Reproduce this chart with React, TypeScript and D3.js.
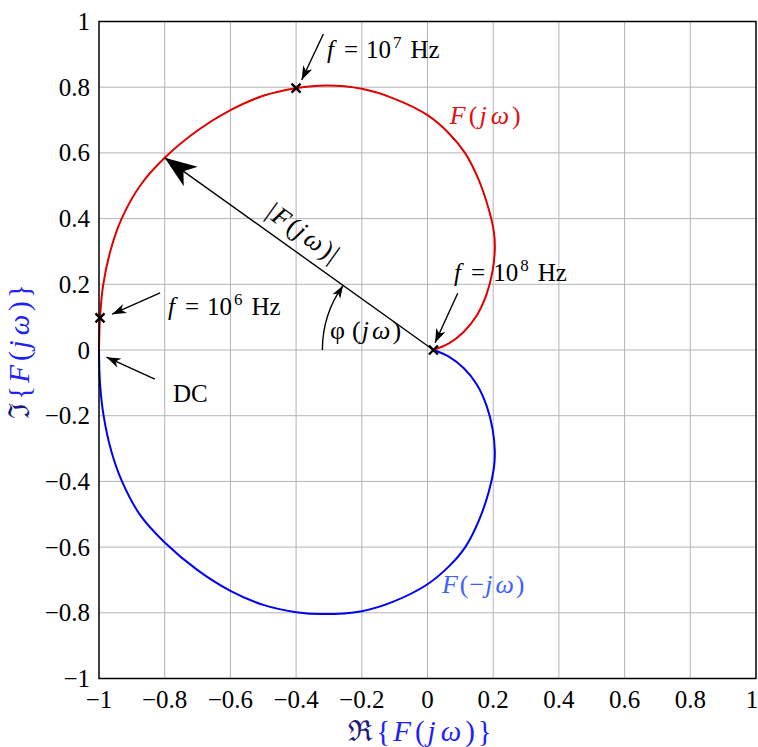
import React from 'react';
import * as d3 from 'd3';

const W = 758;
const H = 747;

// F(jω) branch (red)
const posRe = [-1, -0.997, -0.987, -0.963, -0.931, -0.875, -0.8, -0.7, -0.6, -0.5, -0.4, -0.307, -0.2, -0.104, 0, 0.065, 0.114, 0.155, 0.186, 0.202, 0.205, 0.198, 0.18, 0.15, 0.11, 0.065, 0.018];
const posIm = [0, 0.098, 0.2, 0.31, 0.4, 0.5, 0.585, 0.668, 0.73, 0.774, 0.797, 0.805, 0.795, 0.766, 0.715, 0.66, 0.6, 0.52, 0.43, 0.36, 0.31, 0.24, 0.17, 0.105, 0.055, 0.02, 0];

// F(-jω) branch (blue)
const negRe = [-1, -0.997, -0.986, -0.962, -0.93, -0.875, -0.8, -0.7, -0.6, -0.5, -0.4, -0.318, -0.2, -0.104, 0, 0.066, 0.115, 0.156, 0.187, 0.202, 0.205, 0.198, 0.18, 0.15, 0.11, 0.065, 0.018];
const negIm = [0, -0.1, -0.2, -0.31, -0.4, -0.502, -0.586, -0.67, -0.733, -0.776, -0.798, -0.804, -0.795, -0.766, -0.713, -0.658, -0.6, -0.52, -0.43, -0.36, -0.31, -0.24, -0.17, -0.105, -0.055, -0.02, 0];

const ticks = [-1, -0.8, -0.6, -0.4, -0.2, 0, 0.2, 0.4, 0.6, 0.8, 1];

// frequency markers
const markRe = [-0.997, -0.4, 0.018];
const markIm = [0.098, 0.797, 0];
const markExp = ['6', '7', '8'];

// annotation arrows: [fromRe, fromIm, toRe, toIm]
const noteArrows = [
  [-0.814, 0.174, -0.96, 0.109],
  [-0.317, 0.962, -0.383, 0.822],
  [0.092, 0.173, 0.023, 0.022],
  [-0.83, -0.089, -0.977, -0.022],
];
// where the "f = 10^n Hz" texts start
const noteText = [
  [-0.79, 0.108],
  [-0.306, 0.89],
  [0.081, 0.21],
];

// the |F(jω)| vector ends on the curve here
const vecTip = [-0.8, 0.585];
const phiRadius = 0.338;

const fmt = (v: number) => (v === 0 ? '0' : String(v).replace('-', '\u2212'));

const font = "'Liberation Serif', 'Times New Roman', serif";
const fs = 25;

// stealth-like arrow head, tip at (tx,ty), pointing away from (fx,fy)
function head(fx: number, fy: number, tx: number, ty: number, len: number, hw: number) {
  const a = Math.atan2(ty - fy, tx - fx);
  const ux = Math.cos(a), uy = Math.sin(a);
  const px = -uy, py = ux;
  const bx = tx - ux * len, by = ty - uy * len;
  const nx = tx - ux * len * 0.72, ny = ty - uy * len * 0.72;
  return `M${tx},${ty}L${bx + px * hw},${by + py * hw}L${nx},${ny}L${bx - px * hw},${by - py * hw}Z`;
}

const FJw = ({ neg = false }: { neg?: boolean }) => (
  <>
    <tspan fontStyle="italic">F</tspan>
    <tspan dx={1}>(</tspan>
    {neg ? <tspan>−</tspan> : null}
    <tspan fontStyle="italic">j</tspan>
    <tspan fontStyle="italic" dx={2}>ω</tspan>
    <tspan dx={1}>)</tspan>
  </>
);

export default function App() {
  const x = d3.scaleLinear().domain([-1, 1]).range([99, 756]);
  const y = d3.scaleLinear().domain([-1, 1]).range([678.5, 21.5]);

  const line = d3
    .line<number>()
    .x((i) => x(posRe[i]))
    .y((i) => y(posIm[i]))
    .curve(d3.curveCatmullRom.alpha(0.5));
  const lineNeg = d3
    .line<number>()
    .x((i) => x(negRe[i]))
    .y((i) => y(negIm[i]))
    .curve(d3.curveCatmullRom.alpha(0.5));

  const redPath = line(d3.range(posRe.length));
  const bluePath = lineNeg(d3.range(negRe.length));

  // vector from the 10^8 point to the curve
  const cx = x(markRe[2]), cy = y(markIm[2]);
  const vx = x(vecTip[0]), vy = y(vecTip[1]);
  const ang = (Math.atan2(cy - vy, cx - vx) * 180) / Math.PI;
  const r = x(markRe[2]) - x(markRe[2] - phiRadius);
  const phi = Math.atan2(cy - vy, cx - vx);
  const ax0 = cx - r, ay0 = cy;
  const ax1 = cx - r * Math.cos(phi), ay1 = cy - r * Math.sin(phi);
  const pre = phi - 0.15;
  const apx = cx - r * Math.cos(pre), apy = cy - r * Math.sin(pre);

  const midX = x(-0.392), midY = y(0.335);

  const sup = { fontSize: 17 };

  return (
    <svg width={W} height={H} style={{ position: 'absolute', left: 0, top: 0, background: '#fff' }}>
      <g fontFamily={font} fontSize={fs}>
        {/* grid */}
        {ticks.slice(1, -1).map((t) => (
          <line key={'gx' + t} x1={x(t)} x2={x(t)} y1={y(-1)} y2={y(1)} stroke="#b4b4b4" strokeWidth={1} />
        ))}
        {ticks.slice(1, -1).map((t) => (
          <line key={'gy' + t} x1={x(-1)} x2={x(1)} y1={y(t)} y2={y(t)} stroke="#b4b4b4" strokeWidth={1} />
        ))}

        {/* curves */}
        <path d={bluePath || ''} fill="none" stroke="#0000f0" strokeWidth={2} />
        <path d={redPath || ''} fill="none" stroke="#e00000" strokeWidth={2} />

        <rect x={x(-1)} y={y(1)} width={x(1) - x(-1)} height={y(-1) - y(1)} fill="none" stroke="#000" strokeWidth={1.5} />

        {/* tick labels */}
        {ticks.map((t) => (
          <text key={'tx' + t} x={t === 1 ? x(t) - 4 : x(t)} y={708} textAnchor="middle">
            {fmt(t)}
          </text>
        ))}
        {ticks.map((t) => (
          <text key={'ty' + t} x={90} y={y(t) + 8.5} textAnchor="end">
            {fmt(t)}
          </text>
        ))}

        {/* axis titles */}
        <text x={x(0) - 6} y={741} textAnchor="middle" fill="#2020ff" fontSize={29} letterSpacing={3}>
          <tspan fill="#1a1a80">ℜ</tspan>
          <tspan>{'{'}</tspan>
          <FJw />
          <tspan>{'}'}</tspan>
        </text>
        <text transform={`translate(29,${y(0)}) rotate(-90)`} textAnchor="middle" fill="#2020ff" fontSize={29} letterSpacing={3}>
          <tspan fill="#1a1a80">ℑ</tspan>
          <tspan>{'{'}</tspan>
          <FJw />
          <tspan>{'}'}</tspan>
        </text>

        {/* |F(jω)| vector */}
        <line x1={cx} y1={cy} x2={vx} y2={vy} stroke="#000" strokeWidth={1.4} />
        <path d={head(cx, cy, vx, vy, 32, 12)} fill="#000" />
        <text transform={`translate(${midX},${midY}) rotate(${ang})`} textAnchor="middle" fontSize={26} letterSpacing={1.5}>
          <tspan>|</tspan>
          <FJw />
          <tspan>|</tspan>
        </text>

        {/* phase arc */}
        <path d={`M${ax0},${ay0}A${r},${r} 0 0 1 ${ax1},${ay1}`} fill="none" stroke="#000" strokeWidth={1.4} />
        <path d={head(apx, apy, ax1, ay1, 13, 4.5)} fill="#000" />
        <text x={x(-0.187)} y={y(0.058) + 8} textAnchor="middle" fontSize={26} letterSpacing={1}>
          <tspan>φ</tspan>
          <tspan dx={6}>(</tspan>
          <tspan fontStyle="italic">j</tspan>
          <tspan fontStyle="italic" dx={2}>ω</tspan>
          <tspan dx={1}>)</tspan>
        </text>

        {/* annotation arrows */}
        {noteArrows.map((a, i) => {
          const fx = x(a[0]), fy = y(a[1]), tx = x(a[2]), ty = y(a[3]);
          return (
            <g key={'na' + i}>
              <line x1={fx} y1={fy} x2={tx} y2={ty} stroke="#000" strokeWidth={1.4} />
              <path d={head(fx, fy, tx, ty, 14, 5)} fill="#000" />
            </g>
          );
        })}
        {noteText.map((p, i) => (
          <text key={'nt' + i} x={x(p[0])} y={y(p[1])}>
            <tspan fontStyle="italic">f</tspan>
            <tspan dx={10}>=</tspan>
            <tspan dx={8}>10</tspan>
            <tspan style={sup} dy={-10} dx={2}>
              {markExp[i]}
            </tspan>
            <tspan dy={10} dx={9}>Hz</tspan>
          </text>
        ))}
        <text x={x(-0.775)} y={y(-0.158)}>DC</text>

        {/* markers */}
        {markRe.map((m, i) => {
          const px = x(m), py = y(markIm[i]);
          return (
            <path key={'mk' + i} d={`M${px - 4.5},${py - 4.5}L${px + 4.5},${py + 4.5}M${px - 4.5},${py + 4.5}L${px + 4.5},${py - 4.5}`} stroke="#000" strokeWidth={2.4} />
          );
        })}

        {/* branch labels */}
        <text x={x(0.068)} y={y(0.688)} fill="#e01010" fontSize={26} letterSpacing={2}>
          <FJw />
        </text>
        <text x={x(0.044)} y={y(-0.74)} fill="#4060ff" fontSize={26} letterSpacing={1}>
          <FJw neg />
        </text>
      </g>
    </svg>
  );
}
